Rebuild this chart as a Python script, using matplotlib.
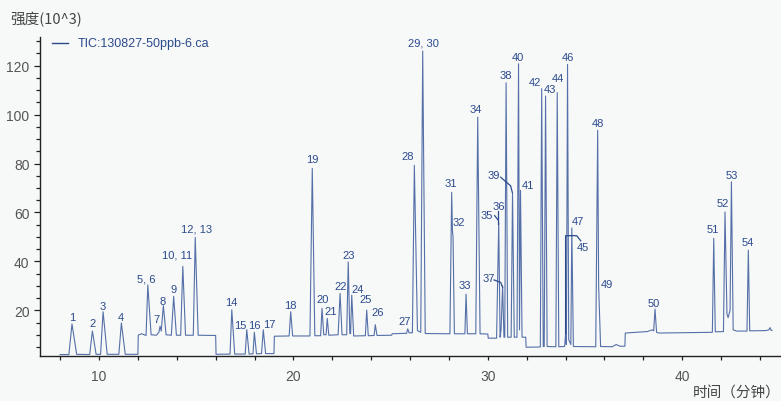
import matplotlib.pyplot as plt
from matplotlib.lines import Line2D
from matplotlib.ticker import MultipleLocator

# TIC 色谱图 (时间 / 强度 顶点)
trace_t = [8.0, 8.45, 8.61, 8.85, 9.52, 9.66, 9.85, 10.08, 10.21, 10.42,
           11.02, 11.15, 11.35, 12.0, 12.02, 12.2, 12.42, 12.51, 12.68, 12.95,
           13.08, 13.14, 13.2, 13.31, 13.45, 13.72, 13.84, 13.98, 14.2, 14.31,
           14.45, 14.85, 14.95, 15.1, 16.0, 16.02, 16.74, 16.83, 16.98, 17.52,
           17.6, 17.72, 17.92, 17.99, 18.1, 18.36, 18.45, 18.57, 19.0, 19.02,
           19.78, 19.86, 19.96, 20.85, 20.97, 21.1, 21.4, 21.47, 21.56, 21.68,
           21.74, 21.82, 22.3, 22.4, 22.5, 22.74, 22.82, 22.9, 22.94, 23.0,
           23.1, 23.7, 23.77, 23.85, 24.15, 24.21, 24.3, 25.05, 25.08, 25.82,
           25.88, 25.95, 26.12, 26.22, 26.38, 26.55, 26.65, 26.78, 28.05, 28.14,
           28.18, 28.21, 28.28, 28.82, 28.88, 28.95, 29.38, 29.48, 29.6, 30.0,
           30.02, 30.45, 30.56, 30.63, 30.68, 30.76, 30.83, 30.87, 30.94, 31.02,
           31.2, 31.27, 31.36, 31.5, 31.58, 31.63, 31.68, 31.76, 31.95, 31.97,
           32.7, 32.77, 32.85, 32.9, 32.97, 33.05, 33.5, 33.57, 33.65, 33.95,
           34.0, 34.04, 34.1, 34.16, 34.27, 34.32, 34.4, 35.55, 35.65, 35.7,
           35.8, 36.4, 36.6, 36.8, 37.05, 37.07, 38.2, 38.45, 38.53, 38.6,
           38.68, 38.8, 41.55, 41.62, 41.7, 42.12, 42.2, 42.3, 42.36, 42.46,
           42.53, 42.62, 42.8, 43.33, 43.4, 43.47, 44.3, 44.45, 44.52, 44.57,
           44.62]
trace_y = [1.9, 1.9, 14.4, 2.0, 1.9, 11.5, 2.0, 2.0, 19.4, 2.0,
           2.0, 14.8, 2.0, 2.0, 9.9, 10.4, 9.7, 30.4, 10.0, 9.8,
           11.0, 13.5, 11.5, 21.9, 10.0, 9.8, 25.7, 9.8, 9.8, 38.0,
           9.8, 9.8, 49.8, 9.8, 9.7, 2.0, 2.1, 20.2, 2.1, 2.1,
           12.1, 2.1, 2.2, 11.0, 2.2, 2.3, 12.0, 2.3, 2.3, 9.4,
           9.5, 19.4, 9.5, 9.5, 78.0, 9.6, 9.6, 20.8, 10.0, 10.0,
           16.7, 9.8, 10.0, 26.9, 10.0, 10.0, 39.8, 10.5, 10.5, 26.2,
           9.5, 9.6, 20.1, 9.6, 9.7, 14.1, 9.7, 9.8, 10.4, 10.6,
           12.4, 10.8, 10.8, 79.3, 11.7, 11.0, 126.0, 10.5, 10.4, 68.2,
           52.5, 50.0, 10.4, 10.4, 26.6, 10.4, 10.4, 99.0, 10.4, 10.3,
           8.6, 8.6, 55.9, 9.0, 12.0, 30.0, 9.0, 9.0, 113.0, 9.0,
           9.0, 67.9, 9.0, 9.0, 120.8, 12.0, 69.0, 9.0, 9.0, 4.9,
           5.0, 110.6, 5.2, 5.2, 107.6, 5.2, 5.1, 109.0, 5.1, 5.2,
           10.4, 6.0, 120.5, 8.0, 6.0, 53.7, 5.2, 5.1, 93.6, 30.0,
           5.2, 5.1, 6.0, 5.3, 5.3, 10.7, 11.3, 12.0, 11.6, 20.5,
           11.0, 10.7, 11.0, 49.4, 11.2, 11.3, 60.2, 18.5, 17.0, 20.0,
           72.5, 12.0, 11.5, 11.5, 44.6, 11.6, 11.7, 12.0, 12.9, 11.8,
           11.8]

# 峰标签
label_text = ["1", "2", "3", "4", "5, 6", "7", "8", "9", "10, 11", "12, 13",
              "14", "15", "16", "17", "18", "19", "20", "21", "22", "23",
              "24", "25", "26", "27", "28", "29, 30", "31", "32", "33", "34",
              "35", "36", "37", "38", "39", "40", "41", "42", "43", "44",
              "45", "46", "47", "48", "49", "50", "51", "52", "53", "54"]
label_x = [8.61, 9.66, 10.21, 11.13, 12.42, 12.98, 13.29, 13.82, 14.0, 15.03,
           16.79, 17.25, 18.01, 18.75, 19.83, 20.97, 21.5, 21.92, 22.42, 22.83,
           23.3, 23.72, 24.33, 25.74, 25.9, 26.67, 28.11, 28.52, 28.83, 29.39,
           29.94, 30.54, 30.05, 30.92, 30.28, 31.57, 32.07, 32.43, 33.18, 33.6,
           34.9, 34.11, 34.62, 35.65, 36.11, 38.55, 41.58, 42.1, 42.56, 43.38]
label_y = [17.1, 14.8, 21.6, 17.1, 33.2, 16.4, 24.0, 28.6, 42.8, 53.5,
           23.3, 14.1, 14.1, 14.4, 22.2, 81.8, 24.5, 19.7, 30.0, 42.6,
           28.7, 24.5, 19.4, 15.6, 83.1, 129.3, 72.0, 56.2, 30.3, 102.3,
           59.0, 62.5, 33.1, 116.2, 75.4, 123.5, 71.2, 113.2, 110.6, 115.0,
           45.9, 123.7, 56.5, 96.7, 30.9, 23.0, 53.2, 63.9, 75.3, 47.9]

# 引线
leaders = [
    ([30.35, 30.52], [58.7, 57.0]),
    ([30.54, 30.54], [60.7, 55.3]),
    ([30.32, 30.66, 30.76], [32.4, 31.4, 29.4]),
    ([30.66, 31.17, 31.26], [74.4, 70.9, 68.2]),
    ([34.0, 34.0, 34.57, 34.78], [10.4, 50.5, 50.5, 48.4]),
]

bg = "#f7f8f8"
line_color = "#5570a8"
text_color = "#2b4a8c"

fig = plt.figure(figsize=(7.81, 4.02), dpi=100, facecolor=bg)
ax = fig.add_axes([0.0516, 0.1112, 0.9484, 0.795], facecolor=bg)

ax.plot(trace_t, trace_y, color=line_color, linewidth=0.8)

for txt, x, y in zip(label_text, label_x, label_y):
    ax.text(x, y, txt, ha="center", va="center", fontsize=8,
            color=text_color, family="Liberation Sans")

for lx, ly in leaders:
    ax.plot(lx, ly, color=text_color, linewidth=0.9)

ax.set_xlim(6.98, 45.08)
ax.set_ylim(1.19, 131.85)

ax.xaxis.set_major_locator(MultipleLocator(10))
ax.xaxis.set_minor_locator(MultipleLocator(2))
ax.yaxis.set_major_locator(MultipleLocator(20))
ax.yaxis.set_minor_locator(MultipleLocator(5))
ax.set_yticks([20, 40, 60, 80, 100, 120])

for s in ["top", "right"]:
    ax.spines[s].set_visible(False)
for s in ["left", "bottom"]:
    ax.spines[s].set_color("#222222")
    ax.spines[s].set_linewidth(1)

ax.tick_params(axis="x", which="both", length=2.9, width=0.9, color="#222222",
               labelsize=10, labelcolor="#555555", pad=6)
ax.tick_params(axis="y", which="major", length=4.3, width=0.9, color="#222222",
               labelsize=10, labelcolor="#555555", pad=3.5)
ax.tick_params(axis="y", which="minor", length=2.6, width=0.9, color="#222222")
for lab in ax.get_xticklabels() + ax.get_yticklabels():
    lab.set_family("Liberation Sans")

# 图例
fig.add_artist(Line2D([51.7 / 781, 68.3 / 781], [1 - 44.3 / 402] * 2,
                      color=text_color, linewidth=1))
fig.text(77.7 / 781, 1 - 44.3 / 402, "TIC:130827-50ppb-6.ca", ha="left",
         va="center", fontsize=9, color=text_color, family="Liberation Sans")

fig.text(10 / 781, 1 - 20 / 402, "强度(10^3)", ha="left", va="center",
         fontsize=10.5, color="#444444", family=["Noto Sans CJK SC", "DejaVu Sans"])
fig.text(1.0, 1 - 394 / 402, "时间（分钟）", ha="right", va="center",
         fontsize=10.5, color="#444444", family=["Noto Sans CJK SC", "DejaVu Sans"])

fig.savefig("out.png", dpi=100, facecolor=bg)
